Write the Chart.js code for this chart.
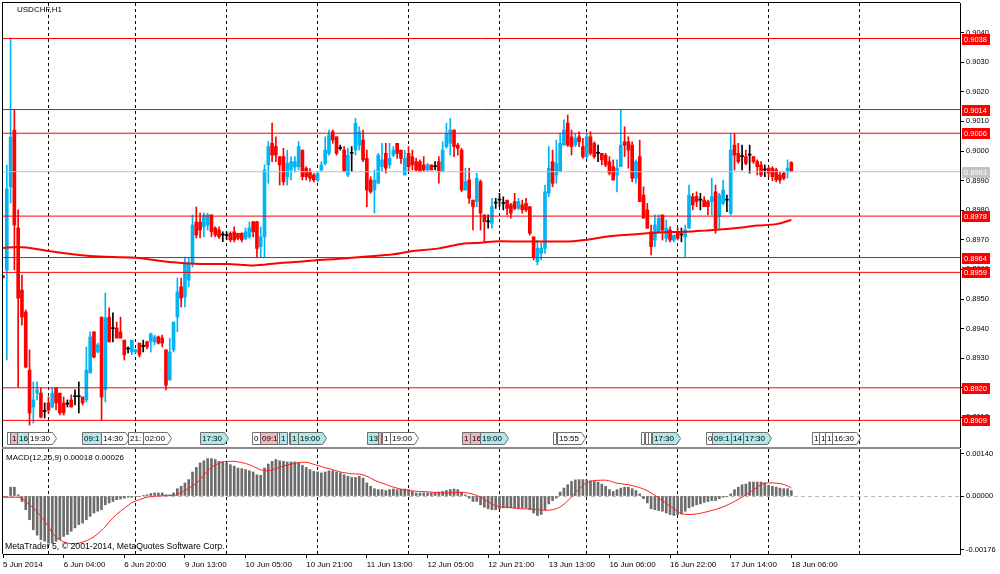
<!DOCTYPE html>
<html>
<head>
<meta charset="utf-8">
<title>USDCHF,H1</title>
<script src="https://cdn.jsdelivr.net/npm/chart.js@4.4.1/dist/chart.umd.min.js"></script>
<style>
  html, body { margin:0; padding:0; background:#ffffff; }
  #wrap { position:relative; width:1000px; height:574px; overflow:hidden; background:#ffffff; }
  #wrap canvas { position:absolute; left:0; }
  #frame { position:absolute; left:2px; top:2px; width:958px; height:552px; border-left:1px solid #000; border-top:1px solid #000; box-sizing:border-box; pointer-events:none; }
  #sep { position:absolute; left:2px; top:447px; width:958px; height:2px; background:#8c8c8c; pointer-events:none; }
</style>
</head>
<body>
<div id="wrap">
  <canvas id="mainChart" width="1000" height="448" style="top:0px"></canvas>
  <canvas id="macdChart" width="1000" height="126" style="top:448px"></canvas>
  <div id="frame"></div>
  <div id="sep"></div>
</div>
<script>
// ---------------- DATA ----------------
const symbolTitle = 'USDCHF,H1';
const macdTitle = 'MACD(12,26,9) 0.00018 0.00026';
const copyrightText = 'MetaTrader 5, \u00A9 2001-2014, MetaQuotes Software Corp.';

// hourly candles, bar 0 .. 208
const opens = [
0.89578,0.89598,0.89878,0.90071,0.89740,0.89530,0.89456,0.89260,0.89135,0.89182,
0.89182,0.89120,0.89149,0.89135,0.89200,0.89182,0.89149,0.89145,0.89159,0.89170,
0.89170,0.89169,0.89159,0.89250,0.89389,0.89321,0.89439,0.89193,0.89439,0.89400,
0.89402,0.89389,0.89361,0.89331,0.89321,0.89321,0.89351,0.89340,0.89355,0.89355,
0.89355,0.89372,0.89368,0.89328,0.89226,0.89328,0.89439,0.89541,0.89507,0.89564,
0.89622,0.89760,0.89760,0.89744,0.89750,0.89784,0.89740,0.89733,0.89716,0.89714,
0.89722,0.89727,0.89722,0.89722,0.89705,0.89710,0.89761,0.89761,0.89677,0.89710,
0.89953,0.90026,0.90015,0.89981,0.89981,0.89913,0.89936,0.89946,0.89947,0.90003,
0.89941,0.89930,0.89919,0.89902,0.89936,0.89958,0.89992,0.90065,0.90048,0.90009,
0.90003,0.89919,0.89992,0.90003,0.90020,0.90037,0.89975,0.89902,0.89868,0.89891,
0.89947,0.89992,0.89953,0.89986,0.90026,0.90003,0.89919,0.89992,0.89981,0.89964,
0.89964,0.89953,0.89936,0.89953,0.89947,0.89964,0.89930,0.90015,0.90026,0.90071,
0.90020,0.90003,0.89868,0.89902,0.89834,0.89829,0.89896,0.89784,0.89761,0.89756,
0.89824,0.89834,0.89823,0.89834,0.89818,0.89829,0.89806,0.89818,0.89823,0.89812,
0.89710,0.89626,0.89654,0.89671,0.89857,0.89964,0.89919,0.89930,0.90020,0.90094,
0.90048,0.90020,0.90048,0.90015,0.89981,0.90048,0.90026,0.89992,0.89992,0.89986,
0.89964,0.89947,0.89919,0.89947,0.90031,0.90031,0.90020,0.89908,0.89981,0.89851,
0.89801,0.89727,0.89699,0.89727,0.89784,0.89705,0.89733,0.89699,0.89722,0.89716,
0.89710,0.89739,0.89846,0.89846,0.89834,0.89834,0.89829,0.89829,0.89862,0.89778,
0.89823,0.89834,0.89790,0.90020,0.89992,0.89981,0.89981,0.89986,0.89981,0.89964,
0.89953,0.89936,0.89942,0.89942,0.89936,0.89919,0.89925,0.89929,0.89961
];
const highs = [
0.89580,0.89953,0.90382,0.90139,0.89801,0.89581,0.89463,0.89328,0.89220,0.89220,
0.89199,0.89149,0.89169,0.89200,0.89200,0.89182,0.89169,0.89159,0.89176,0.89193,
0.89220,0.89169,0.89338,0.89389,0.89389,0.89351,0.89439,0.89520,0.89470,0.89453,
0.89422,0.89439,0.89361,0.89338,0.89361,0.89331,0.89351,0.89361,0.89358,0.89385,
0.89378,0.89375,0.89378,0.89328,0.89368,0.89422,0.89571,0.89571,0.89642,0.89639,
0.89784,0.89811,0.89790,0.89791,0.89790,0.89785,0.89744,0.89744,0.89727,0.89727,
0.89727,0.89744,0.89722,0.89724,0.89740,0.89760,0.89762,0.89762,0.89744,0.89953,
0.90032,0.90094,0.90048,0.89981,0.90009,0.90003,0.89980,0.89981,0.90032,0.90003,
0.89947,0.89941,0.89924,0.89930,0.89964,0.90048,0.90071,0.90071,0.90048,0.90020,
0.90015,0.90009,0.90015,0.90110,0.90082,0.90071,0.90003,0.89913,0.89936,0.89992,
0.90026,0.90026,0.90026,0.90015,0.90026,0.90003,0.90003,0.90015,0.90003,0.89975,
0.89970,0.89981,0.89958,0.89953,0.89964,0.89981,0.90031,0.90094,0.90110,0.90071,
0.90026,0.90009,0.89942,0.89942,0.89834,0.89925,0.89902,0.89784,0.89784,0.89840,
0.89840,0.89857,0.89845,0.89834,0.89823,0.89857,0.89840,0.89834,0.89840,0.89812,
0.89710,0.89699,0.89689,0.89885,0.90015,0.90003,0.90037,0.90060,0.90105,0.90122,
0.90071,0.90060,0.90065,0.90043,0.90060,0.90065,0.90031,0.90020,0.89992,0.89992,
0.89981,0.89970,0.89970,0.90139,0.90082,0.90048,0.90031,0.89970,0.90037,0.89879,
0.89823,0.89750,0.89784,0.89784,0.89784,0.89767,0.89744,0.89716,0.89740,0.89740,
0.89750,0.89885,0.89857,0.89862,0.89857,0.89846,0.89834,0.89908,0.89885,0.89857,
0.89902,0.89851,0.90060,0.90060,0.90026,0.90020,0.90003,0.90020,0.89981,0.89970,
0.89964,0.89953,0.89947,0.89947,0.89942,0.89930,0.89930,0.89970,0.89964
];
const lows = [
0.89570,0.89294,0.89824,0.89598,0.89203,0.89412,0.89267,0.89074,0.89081,0.89159,
0.89098,0.89098,0.89115,0.89132,0.89125,0.89108,0.89108,0.89135,0.89135,0.89142,
0.89115,0.89142,0.89152,0.89250,0.89301,0.89318,0.89091,0.89152,0.89355,0.89355,
0.89368,0.89368,0.89294,0.89318,0.89311,0.89318,0.89304,0.89321,0.89331,0.89321,
0.89345,0.89348,0.89338,0.89193,0.89226,0.89321,0.89389,0.89473,0.89473,0.89541,
0.89608,0.89706,0.89706,0.89710,0.89733,0.89710,0.89710,0.89705,0.89694,0.89700,
0.89693,0.89693,0.89700,0.89693,0.89700,0.89705,0.89710,0.89642,0.89642,0.89642,
0.89891,0.89964,0.89964,0.89885,0.89885,0.89885,0.89902,0.89929,0.89936,0.89902,
0.89902,0.89898,0.89895,0.89896,0.89930,0.89953,0.89986,0.90026,0.89986,0.90003,
0.89930,0.89913,0.89930,0.89986,0.90003,0.89964,0.89812,0.89857,0.89790,0.89891,
0.89930,0.89925,0.89942,0.89981,0.89975,0.89958,0.89919,0.89930,0.89936,0.89930,
0.89930,0.89930,0.89930,0.89936,0.89936,0.89891,0.89930,0.90009,0.89986,0.89981,
0.89986,0.89862,0.89868,0.89823,0.89733,0.89812,0.89733,0.89694,0.89739,0.89739,
0.89806,0.89812,0.89801,0.89784,0.89773,0.89801,0.89801,0.89790,0.89795,0.89716,
0.89632,0.89615,0.89632,0.89654,0.89846,0.89879,0.89891,0.89930,0.90020,0.90015,
0.89986,0.90015,0.90015,0.89975,0.89975,0.89986,0.89975,0.89964,0.89953,0.89947,
0.89919,0.89902,0.89862,0.89947,0.89981,0.89942,0.89896,0.89891,0.89829,0.89773,
0.89739,0.89649,0.89677,0.89722,0.89699,0.89693,0.89693,0.89693,0.89699,0.89693,
0.89643,0.89739,0.89801,0.89812,0.89801,0.89812,0.89784,0.89784,0.89722,0.89739,
0.89818,0.89795,0.89784,0.89936,0.89958,0.89936,0.89953,0.89925,0.89958,0.89919,
0.89913,0.89913,0.89913,0.89899,0.89896,0.89891,0.89902,0.89908,0.89930
];
const closes = [
0.89572,0.89872,0.90047,0.89750,0.89503,0.89439,0.89270,0.89115,0.89159,0.89193,
0.89101,0.89120,0.89125,0.89182,0.89149,0.89115,0.89115,0.89145,0.89135,0.89170,
0.89170,0.89149,0.89260,0.89372,0.89304,0.89345,0.89169,0.89436,0.89355,0.89400,
0.89368,0.89368,0.89311,0.89331,0.89361,0.89328,0.89311,0.89340,0.89338,0.89382,
0.89372,0.89351,0.89351,0.89209,0.89321,0.89422,0.89524,0.89503,0.89622,0.89622,
0.89750,0.89716,0.89733,0.89784,0.89784,0.89727,0.89716,0.89710,0.89716,0.89714,
0.89700,0.89700,0.89705,0.89700,0.89727,0.89740,0.89727,0.89671,0.89710,0.89936,
0.90015,0.89986,0.89986,0.89953,0.89896,0.89958,0.89964,0.89964,0.90015,0.89913,
0.89913,0.89908,0.89902,0.89924,0.89953,0.90003,0.90054,0.90037,0.89992,0.90009,
0.89930,0.89986,0.89992,0.90094,0.90065,0.89970,0.89868,0.89862,0.89902,0.89986,
0.89970,0.89942,0.89975,0.90003,0.89992,0.89975,0.89975,0.89947,0.89953,0.89936,
0.89930,0.89936,0.89953,0.89936,0.89947,0.89930,0.90003,0.90060,0.90071,0.90015,
0.90009,0.89868,0.89896,0.89840,0.89812,0.89908,0.89790,0.89761,0.89761,0.89812,
0.89824,0.89834,0.89823,0.89806,0.89790,0.89806,0.89829,0.89801,0.89801,0.89722,
0.89643,0.89671,0.89671,0.89862,0.89942,0.89891,0.89958,0.90026,0.90071,0.90020,
0.90015,0.90043,0.90031,0.89981,0.90048,0.89992,0.89981,0.89992,0.89970,0.89953,
0.89925,0.89902,0.89942,0.90020,0.90020,0.90003,0.89908,0.89964,0.89829,0.89773,
0.89739,0.89677,0.89750,0.89773,0.89733,0.89739,0.89699,0.89716,0.89705,0.89716,
0.89733,0.89851,0.89818,0.89829,0.89834,0.89812,0.89812,0.89846,0.89739,0.89851,
0.89868,0.89834,0.90003,0.89986,0.89964,0.89981,0.89958,0.89986,0.89964,0.89947,
0.89919,0.89936,0.89925,0.89913,0.89902,0.89902,0.89908,0.89942,0.89930
];

// moving average (read at sample bars)
const maBars   = [0,4,12,23,35,44,52,59,66,73,77,82,88,95,103,107,115,121,126,131,139,148,155,159,167,173,180,185,193,199,204,208];
const maValues = [0.89672,0.89676,0.89662,0.89645,0.89639,0.89625,0.89618,0.89618,0.89613,0.89622,0.89625,0.89630,0.89635,0.89643,0.89651,0.89660,0.89671,0.89686,0.89690,0.89695,0.89694,0.89694,0.89702,0.89710,0.89719,0.89725,0.89727,0.89731,0.89739,0.89748,0.89753,0.89767];

// horizontal price levels and current price
const levels = [0.9038, 0.9014, 0.9006, 0.8978, 0.8964, 0.8959, 0.8920, 0.8909];
const lastPrice = 0.8993;
const priceTicks = [0.8910,0.8920,0.8930,0.8940,0.8950,0.8960,0.8970,0.8980,0.8990,0.9000,0.9010,0.9020,0.9030,0.9040];

// MACD main (histogram), bar 0 .. 208
const macdMain = [
-0.00002,-0.00001,0.00029,0.00029,0.00004,-0.00018,-0.00045,-0.00078,-0.00111,-0.00129,
-0.00144,-0.00149,-0.00155,-0.00155,-0.00149,-0.00144,-0.00133,-0.00127,-0.00116,-0.00105,
-0.00094,-0.00089,-0.00078,-0.00067,-0.00056,-0.00050,-0.00045,-0.00029,-0.00023,-0.00018,
-0.00012,-0.00010,-0.00007,-0.00004,-0.00004,-0.00002,-0.00001,0.00001,0.00004,0.00008,
0.00010,0.00010,0.00010,0.00004,0.00004,0.00010,0.00024,0.00032,0.00043,0.00054,
0.00079,0.00094,0.00109,0.00116,0.00123,0.00123,0.00120,0.00114,0.00112,0.00109,
0.00103,0.00098,0.00092,0.00090,0.00087,0.00083,0.00079,0.00070,0.00068,0.00092,
0.00105,0.00114,0.00120,0.00116,0.00114,0.00112,0.00112,0.00112,0.00109,0.00101,
0.00094,0.00087,0.00081,0.00079,0.00076,0.00079,0.00083,0.00083,0.00079,0.00076,
0.00070,0.00065,0.00061,0.00061,0.00065,0.00059,0.00043,0.00032,0.00024,0.00021,
0.00021,0.00018,0.00021,0.00023,0.00021,0.00022,0.00023,0.00021,0.00015,0.00010,
0.00010,0.00010,0.00010,0.00010,0.00012,0.00013,0.00015,0.00018,0.00021,0.00023,
0.00021,0.00013,0.00004,-0.00007,-0.00018,-0.00018,-0.00029,-0.00037,-0.00042,-0.00045,
-0.00045,-0.00042,-0.00039,-0.00039,-0.00039,-0.00039,-0.00039,-0.00039,-0.00039,-0.00045,
-0.00056,-0.00064,-0.00061,-0.00045,-0.00026,-0.00015,-0.00007,0.00013,0.00026,0.00037,
0.00048,0.00053,0.00054,0.00054,0.00053,0.00050,0.00048,0.00045,0.00039,0.00032,
0.00021,0.00015,0.00021,0.00026,0.00029,0.00029,0.00024,0.00018,0.00007,-0.00009,
-0.00023,-0.00042,-0.00045,-0.00048,-0.00050,-0.00056,-0.00061,-0.00064,-0.00061,-0.00059,
-0.00050,-0.00039,-0.00034,-0.00029,-0.00026,-0.00021,-0.00018,-0.00015,-0.00015,-0.00009,
-0.00004,-0.00001,0.00007,0.00021,0.00029,0.00037,0.00039,0.00046,0.00046,0.00046,
0.00046,0.00043,0.00035,0.00032,0.00029,0.00026,0.00024,0.00024,0.00018
];
// MACD signal line (read at sample bars)
const signalBars = [0,4,6,8,10,12,13,15,17,19,20,22,24,26,27,29,31,33,34,36,38,40,43,45,47,48,50,52,54,55,57,59,61,62,64,66,68,70,71,73,75,77,78,80,82,84,85,87,89,91,92,94,96,98,99,101,103,107,110,114,117,121,125,127,130,133,137,140,143,145,147,149,151,153,154,156,159,162,165,169,171,174,177,179,181,183,186,190,193,196,199,200,202,205,207,208];
const signalValues = [-0.00004,-0.00004,-0.00018,-0.00039,-0.00067,-0.00100,-0.00122,-0.00144,-0.00155,-0.00157,-0.00155,-0.00147,-0.00134,-0.00113,-0.00100,-0.00072,-0.00050,-0.00031,-0.00022,-0.00012,-0.00004,-0.00001,0.00001,0.00002,0.00011,0.00018,0.00033,0.00054,0.00083,0.00094,0.00108,0.00114,0.00114,0.00112,0.00107,0.00098,0.00086,0.00083,0.00086,0.00094,0.00102,0.00107,0.00110,0.00111,0.00104,0.00097,0.00093,0.00087,0.00079,0.00075,0.00073,0.00072,0.00065,0.00052,0.00047,0.00038,0.00029,0.00018,0.00015,0.00012,0.00010,0.00012,0.00002,-0.00011,-0.00032,-0.00037,-0.00042,-0.00043,-0.00047,-0.00045,-0.00036,-0.00016,0.00010,0.00035,0.00043,0.00051,0.00052,0.00042,0.00037,0.00023,0.00010,-0.00015,-0.00042,-0.00058,-0.00061,-0.00059,-0.00051,-0.00036,-0.00018,0.00004,0.00029,0.00038,0.00043,0.00041,0.00033,0.00026];
const macdTicks = [-0.00176, 0.00000, 0.00140];

// time axis
const timeLabelBars = [0,16,32,48,64,80,96,112,128,144,160,176,192,208];
const timeLabels = ['5 Jun 2014','6 Jun 04:00','6 Jun 20:00','9 Jun 13:00','10 Jun 05:00','10 Jun 21:00','11 Jun 13:00','12 Jun 05:00','12 Jun 21:00','13 Jun 13:00','16 Jun 06:00','16 Jun 22:00','17 Jun 14:00','18 Jun 06:00'];
const dayStartBars = [12,35,59,83,107,131,154,178,202,226];

// economic calendar events (bar position, text, importance, pointer)
const eventBars   = [1.1,1.9,3.7,6.6,20.8,25.9,33.0,36.9,52.0,65.7,67.8,72.3,72.8,75.5,75.7,77.8,96.0,98.9,100.0,102.1,121.1,123.2,125.9,145.1,146.2,168.3,169.4,170.2,171.2,185.5,187.1,192.1,195.3,213.5,215.3,216.9,218.7];
const eventTexts  = ['','1','16','19:30','09:1','14:30','21:','02:00','17:30','0','09:1','','1','','1','19:00','13','','1','19:00','1','16','19:00','','15:55','','','','17:30','0','09:1','14','17:30','1','1','1','16:30'];
const eventLevels = ['none','high','low','none','low','none','none','none','low','none','high','none','low','none','low','low','low','high','none','none','high','high','low','none','none','none','none','none','low','none','low','low','low','none','none','none','none'];
const eventPointer= [0,0,0,1,0,1,0,1,1,0,0,0,0,0,0,1,0,0,0,1,0,0,1,0,1,0,0,0,1,0,0,0,1,0,0,0,1];

// ---------------- STYLE / LAYOUT ----------------
const FONT = '"Liberation Sans", Arial, sans-serif';
Chart.defaults.font.family = FONT;
Chart.defaults.font.size = 8;
Chart.defaults.color = '#000';

const X_MIN = 0, X_MAX = 252.5;
const Y_MIN = 0.8900, Y_MAX = 0.9050;
const M_MIN = -0.0019079, M_MAX = 0.0015461;
const BULL = '#00b4f5', BEAR = '#ff0000', DOJI = '#000000';
const EVENT_COLORS = { none:'#ffffff', low:'#aee8ea', high:'#f4b6bd' };

const candleColor = i => (opens[i] === closes[i] ? DOJI : (closes[i] > opens[i] ? BULL : BEAR));
const daySet = new Set(dayStartBars);
const labelSet = new Set(timeLabelBars);
const xTickValues = Array.from(new Set([...timeLabelBars, ...dayStartBars])).sort((a,b)=>a-b);
const labelFor = v => { const k = timeLabelBars.indexOf(v); return k >= 0 ? timeLabels[k] : ''; };
const zeroPad = s => { s.paddingTop = 0; s.paddingBottom = 0; s.paddingLeft = 0; s.paddingRight = 0; };

const mainOverlay = {
  id: 'mainOverlay',
  afterDraw(chart) {
    const ctx = chart.ctx, xs = chart.scales.x, ys = chart.scales.y;
    ctx.save();
    ctx.font = '8px ' + FONT;
    ctx.textAlign = 'left';
    ctx.textBaseline = 'middle';
    ctx.fillStyle = '#000';
    ctx.fillText(symbolTitle, 17, 10);
    // event markers row
    const top = 432.5, h = 12;
    for (let i = 0; i < eventBars.length; i++) {
      const x = Math.round(xs.getPixelForValue(eventBars[i])) + 0.5;
      const t = eventTexts[i];
      const w = t ? Math.ceil(ctx.measureText(t).width) + 3 : 3;
      ctx.beginPath();
      ctx.moveTo(x, top);
      ctx.lineTo(x + w, top);
      if (eventPointer[i]) ctx.lineTo(x + w + 4, top + h / 2);
      ctx.lineTo(x + w, top + h);
      ctx.lineTo(x, top + h);
      ctx.closePath();
      ctx.fillStyle = EVENT_COLORS[eventLevels[i]];
      ctx.fill();
      ctx.strokeStyle = '#6e6e6e';
      ctx.lineWidth = 1;
      ctx.stroke();
      if (t) { ctx.fillStyle = '#000'; ctx.fillText(t, x + 1.5, top + h / 2 + 0.5); }
    }
    // price tags on the right axis
    ctx.font = '7.5px ' + FONT;
    const tag = (v, bg) => {
      const y = Math.round(ys.getPixelForValue(v));
      ctx.fillStyle = bg;
      ctx.fillRect(962, y - 5, 28, 11);
      ctx.fillStyle = '#ffffff';
      ctx.fillText(v.toFixed(4), 964, y + 0.5);
    };
    levels.forEach(v => tag(v, '#ff0000'));
    tag(lastPrice, '#c4c4c4');
    ctx.restore();
  }
};

const macdOverlay = {
  id: 'macdOverlay',
  afterDraw(chart) {
    const ctx = chart.ctx;
    ctx.save();
    ctx.textAlign = 'left';
    ctx.textBaseline = 'middle';
    ctx.fillStyle = '#000';
    ctx.font = '8px ' + FONT;
    ctx.fillText(macdTitle, 6, 10);
    ctx.font = '8.7px ' + FONT;
    ctx.fillText(copyrightText, 5, 99);
    ctx.restore();
  }
};

// ---------------- MAIN CHART ----------------
const levelDatasets = levels.map(v => ({
  type: 'line', data: [{x: X_MIN - 2, y: v}, {x: X_MAX + 2, y: v}],
  borderColor: '#ff0000', borderWidth: 1, pointRadius: 0, order: 1
}));

new Chart(document.getElementById('mainChart'), {
  type: 'bar',
  data: {
    datasets: [
      { type: 'line', data: maBars.map((b, i) => ({x: b, y: maValues[i]})),
        borderColor: '#ff0000', borderWidth: 2, pointRadius: 0, cubicInterpolationMode: 'monotone', order: 0 },
      ...levelDatasets,
      { type: 'line', data: [{x: X_MIN - 2, y: lastPrice}, {x: X_MAX + 2, y: lastPrice}],
        borderColor: '#c0c0c0', borderWidth: 1, pointRadius: 0, order: 1 },
      { type: 'bar', data: opens.map((o, i) => ({x: i, y: [o, closes[i]]})),
        backgroundColor: opens.map((o, i) => candleColor(i)), borderWidth: 0,
        barThickness: 3, minBarLength: 1, grouped: false, order: 2 },
      { type: 'bar', data: opens.map((o, i) => ({x: i, y: [lows[i], highs[i]]})),
        backgroundColor: opens.map((o, i) => candleColor(i)), borderWidth: 0,
        barThickness: 1, minBarLength: 1, grouped: false, order: 3 }
    ]
  },
  options: {
    responsive: false, animation: false, devicePixelRatio: 1,
    layout: { autoPadding: false, padding: { left: 3, top: 3, right: 2, bottom: 1 } },
    plugins: { legend: { display: false }, tooltip: { enabled: false } },
    scales: {
      x: {
        type: 'linear', min: X_MIN, max: X_MAX, offset: false,
        afterBuildTicks: s => { s.ticks = dayStartBars.map(v => ({value: v})); },
        afterFit: s => { s.height = 0; zeroPad(s); },
        ticks: { display: false },
        grid: { color: '#000', lineWidth: 1, drawTicks: false, offset: false },
        border: { display: false, dash: [3, 3] }
      },
      y: {
        type: 'linear', position: 'right', min: Y_MIN, max: Y_MAX,
        afterBuildTicks: s => { s.ticks = priceTicks.map(v => ({value: v})); },
        afterFit: s => { s.width = 38; zeroPad(s); },
        ticks: { callback: v => v.toFixed(4), color: '#000', padding: 2, font: { size: 7.5 }, autoSkip: false },
        grid: { drawOnChartArea: false, drawTicks: true, tickLength: 4, tickColor: '#000', tickBorderDash: [] },
        border: { display: true, color: '#000', width: 1 }
      }
    }
  },
  plugins: [mainOverlay]
});

// ---------------- MACD CHART ----------------
new Chart(document.getElementById('macdChart'), {
  type: 'bar',
  data: {
    datasets: [
      { type: 'line', data: signalBars.map((b, i) => ({x: b, y: signalValues[i]})),
        borderColor: '#ff2020', borderWidth: 1, pointRadius: 0, cubicInterpolationMode: 'monotone', order: 0 },
      { type: 'bar', data: macdMain.map((v, i) => ({x: i, y: v})),
        backgroundColor: '#6c6c6c', borderWidth: 0, barThickness: 2, grouped: false, order: 1 }
    ]
  },
  options: {
    responsive: false, animation: false, devicePixelRatio: 1,
    layout: { autoPadding: false, padding: { left: 3, top: 1, right: 2, bottom: 0 } },
    plugins: { legend: { display: false }, tooltip: { enabled: false } },
    scales: {
      x: {
        type: 'linear', min: X_MIN, max: X_MAX, offset: false,
        afterBuildTicks: s => { s.ticks = xTickValues.map(v => ({value: v})); },
        afterFit: s => { s.height = 20; zeroPad(s); },
        ticks: { autoSkip: false, maxRotation: 0, minRotation: 0, align: 'start', padding: 2,
                 color: '#000', font: { size: 8 }, callback: v => labelFor(v) },
        grid: {
          color: c => (c.tick && daySet.has(c.tick.value)) ? '#000' : 'rgba(0,0,0,0)',
          tickColor: c => (c.tick && labelSet.has(c.tick.value)) ? '#000' : 'rgba(0,0,0,0)',
          tickLength: 4, tickBorderDash: [], drawTicks: true, offset: false, lineWidth: 1
        },
        border: { display: true, color: '#000', width: 1, dash: [3, 3] }
      },
      y: {
        type: 'linear', position: 'right', min: M_MIN, max: M_MAX,
        afterBuildTicks: s => { s.ticks = macdTicks.map(v => ({value: v})); },
        afterFit: s => { s.width = 38; zeroPad(s); },
        ticks: { callback: v => v.toFixed(5), color: '#000', padding: 2, font: { size: 7.5 }, autoSkip: false },
        grid: {
          color: c => (c.tick && c.tick.value === 0) ? '#bdbdbd' : 'rgba(0,0,0,0)',
          tickColor: '#000', tickLength: 4, tickBorderDash: [], drawOnChartArea: true
        },
        border: { display: true, color: '#000', width: 1, dash: [4, 3] }
      }
    }
  },
  plugins: [macdOverlay]
});
</script>
</body>
</html>
